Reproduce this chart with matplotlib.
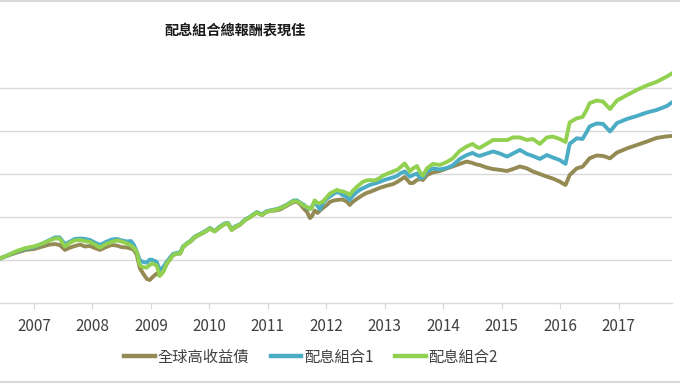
import matplotlib
matplotlib.use('Agg')
import matplotlib.pyplot as plt
from matplotlib.lines import Line2D

plt.rcParams['font.family'] = ['Noto Sans CJK TC', 'DejaVu Sans']

# 時間 (小數年)
years = [2006.42, 2006.56, 2006.71, 2006.86, 2007.00, 2007.15, 2007.27, 2007.36, 2007.44, 2007.53,
         2007.62, 2007.70, 2007.79, 2007.87, 2007.96, 2008.04, 2008.13, 2008.23, 2008.33, 2008.42,
         2008.50, 2008.59, 2008.66, 2008.71, 2008.76, 2008.81, 2008.86, 2008.93, 2008.98, 2009.03,
         2009.10, 2009.15, 2009.21, 2009.27, 2009.32, 2009.38, 2009.44, 2009.50, 2009.55, 2009.62,
         2009.67, 2009.75, 2009.84, 2009.92, 2010.01, 2010.09, 2010.18, 2010.26, 2010.32, 2010.38,
         2010.45, 2010.52, 2010.61, 2010.69, 2010.81, 2010.90, 2010.97, 2011.03, 2011.12, 2011.21,
         2011.29, 2011.38, 2011.44, 2011.50, 2011.55, 2011.62, 2011.67, 2011.72, 2011.75, 2011.80,
         2011.85, 2011.89, 2011.94, 2012.01, 2012.06, 2012.13, 2012.18, 2012.23, 2012.28, 2012.35,
         2012.40, 2012.45, 2012.52, 2012.57, 2012.62, 2012.69, 2012.74, 2012.83, 2012.91, 2012.97,
         2013.05, 2013.14, 2013.21, 2013.26, 2013.34, 2013.43, 2013.48, 2013.55, 2013.60, 2013.65,
         2013.72, 2013.82, 2013.94, 2014.06, 2014.16, 2014.28, 2014.40, 2014.50, 2014.57, 2014.62,
         2014.74, 2014.85, 2014.97, 2015.09, 2015.19, 2015.31, 2015.43, 2015.53, 2015.65, 2015.77,
         2015.87, 2015.99, 2016.04, 2016.09, 2016.16, 2016.28, 2016.38, 2016.45, 2016.50, 2016.62,
         2016.73, 2016.85, 2016.97, 2017.14, 2017.31, 2017.48, 2017.65, 2017.82, 2017.91]

# 全球高收益債
hy = [100.7, 102.1, 103.5, 104.7, 105.1, 106.3, 107.2, 107.4, 107.0, 104.7,
      105.8, 106.5, 107.2, 106.3, 106.5, 105.6, 104.7, 106.0, 107.0, 106.7,
      106.0, 105.8, 105.3, 104.7, 102.3, 96.3, 94.0, 91.2, 90.7, 92.1,
      93.7, 92.8, 94.7, 98.1, 100.2, 102.3, 103.0, 103.0, 106.0, 107.7,
      108.4, 110.5, 111.9, 113.0, 114.7, 113.3, 115.3, 116.7, 117.0, 114.0,
      115.3, 116.3, 118.6, 119.8, 122.1, 120.9, 122.3, 122.8, 123.0, 123.5,
      124.7, 126.0, 127.0, 127.0, 126.0, 123.7, 122.3, 119.5, 120.2, 123.0,
      121.9, 123.0, 124.2, 125.6, 127.0, 127.7, 127.9, 128.1, 128.1, 127.2,
      125.6, 127.0, 128.4, 129.3, 130.2, 131.2, 131.6, 132.6, 133.5, 134.0,
      134.7, 135.3, 136.3, 137.2, 138.6, 135.8, 135.8, 137.2, 137.7, 137.2,
      139.5, 140.7, 141.4, 142.6, 143.5, 144.7, 145.8, 145.1, 144.4, 144.2,
      143.0, 142.3, 141.9, 141.4, 142.3, 143.5, 142.6, 141.2, 140.0, 138.8,
      137.9, 136.5, 135.6, 134.9, 139.5, 142.6, 143.4, 145.6, 147.3, 148.6,
      148.4, 147.3, 150.0, 151.9, 153.5, 155.1, 156.8, 157.5, 157.7]

# 配息組合1
mix1 = [100.7, 102.3, 104.0, 105.3, 106.0, 107.7, 109.3, 110.5, 110.5, 107.4,
        108.6, 109.8, 110.0, 109.8, 109.3, 108.1, 107.0, 108.4, 109.5, 109.8,
        109.1, 108.6, 108.8, 107.0, 103.7, 100.0, 99.1, 98.8, 100.2, 100.0,
        99.1, 95.3, 96.7, 99.1, 100.9, 102.8, 103.3, 103.5, 106.3, 107.9,
        108.8, 110.9, 112.1, 113.3, 114.9, 113.5, 115.6, 117.0, 117.2, 114.4,
        115.8, 116.5, 118.8, 120.0, 122.3, 121.2, 122.6, 123.0, 123.5, 124.2,
        125.3, 126.7, 127.7, 127.7, 126.7, 125.6, 124.2, 123.7, 124.7, 127.2,
        125.1, 123.5, 126.5, 128.6, 129.5, 130.9, 131.6, 131.2, 130.2, 129.3,
        127.9, 129.8, 131.6, 132.6, 133.3, 134.2, 134.9, 135.6, 136.3, 137.0,
        137.7, 138.4, 139.1, 140.2, 141.2, 138.8, 139.5, 140.2, 138.1, 138.4,
        141.2, 142.6, 142.1, 142.8, 144.0, 147.0, 148.8, 149.8, 148.8, 148.4,
        149.5, 150.5, 149.5, 148.1, 149.5, 151.2, 149.3, 148.4, 147.0, 148.8,
        147.7, 146.5, 145.6, 144.7, 154.0, 156.6, 156.3, 159.5, 162.1, 163.5,
        163.3, 159.8, 163.7, 165.6, 167.0, 168.6, 169.8, 171.6, 173.3]

# 配息組合2
mix2 = [100.7, 102.3, 104.2, 105.6, 106.3, 107.7, 109.1, 110.0, 110.0, 106.3,
        108.1, 109.1, 109.3, 108.8, 108.4, 107.2, 105.8, 107.4, 108.4, 109.1,
        108.6, 107.7, 106.7, 105.6, 103.7, 97.7, 96.7, 96.5, 97.7, 98.4,
        97.4, 92.6, 94.4, 98.4, 100.0, 102.3, 103.0, 103.0, 106.0, 107.7,
        108.6, 110.7, 111.9, 113.0, 114.7, 113.3, 115.3, 116.7, 117.0, 114.0,
        115.6, 116.3, 118.6, 119.8, 122.1, 120.9, 122.3, 122.8, 123.3, 124.0,
        125.1, 126.5, 127.4, 127.2, 126.5, 125.1, 124.7, 123.7, 124.2, 127.7,
        126.5, 126.5, 127.2, 129.3, 130.9, 131.9, 132.6, 132.1, 131.9, 131.2,
        130.2, 132.1, 134.0, 135.1, 136.3, 137.0, 137.2, 137.0, 138.1, 139.3,
        140.2, 141.2, 141.9, 143.0, 144.9, 141.2, 142.6, 143.7, 140.9, 139.3,
        142.6, 144.7, 144.2, 145.6, 147.2, 150.7, 152.8, 154.0, 152.6, 152.1,
        154.0, 155.8, 155.8, 155.8, 157.0, 157.0, 155.8, 156.3, 154.0, 157.0,
        157.4, 156.3, 155.6, 154.9, 164.0, 165.9, 166.5, 169.8, 172.9, 174.2,
        173.7, 170.2, 174.2, 176.7, 179.1, 181.2, 182.9, 185.3, 186.8]

series_names = ['全球高收益債', '配息組合1', '配息組合2']
series_colors = ['#948A54', '#4BACC6', '#92D050']
year_ticks = list(range(2007, 2018))
grid_levels = [100, 120, 140, 160, 180]

fig = plt.figure(figsize=(6.8, 3.83), dpi=100)
ax = fig.add_axes([0, 80 / 383, 672 / 680, 258 / 383])

for vals, name, col in zip([hy, mix1, mix2], series_names, series_colors):
    ax.plot(years, vals, color=col, lw=2.8, label=name, solid_joinstyle='round')

ax.set_xlim(2006.42, 2017.91)
ax.set_ylim(80, 200)
for g in grid_levels:
    ax.axhline(g, color='#D9D9D9', lw=1, zorder=0)

for s in ['top', 'right', 'left']:
    ax.spines[s].set_visible(False)
ax.spines['bottom'].set_color('#D9D9D9')
ax.spines['bottom'].set_linewidth(1)
ax.set_yticks([])
ax.set_xticks(year_ticks)
ax.set_xticklabels([str(y) for y in year_ticks])
ax.tick_params(axis='x', direction='out', length=4, color='#D9D9D9',
               labelsize=11, labelcolor='#404040', pad=7)

fig.text(235 / 680, 1 - 30 / 383, '配息組合總報酬表現佳', ha='center', va='center',
         fontsize=10.2, fontweight='bold', color='#1a1a1a')

handles = [Line2D([], [], color=c, lw=3.2) for c in series_colors]
fig.legend(handles, series_names, loc='center', bbox_to_anchor=(311 / 680, 1 - 357 / 383),
           ncol=3, frameon=False, fontsize=11, handlelength=2.0, handletextpad=0.2,
           columnspacing=1.4, labelcolor='#404040')

# 上下框線
fig.add_artist(Line2D([0, 1], [1 - 1 / 383, 1 - 1 / 383], color='#D9D9D9', lw=1.5,
                      transform=fig.transFigure))
fig.add_artist(Line2D([0, 1], [1.5 / 383, 1.5 / 383], color='#D9D9D9', lw=1.5,
                      transform=fig.transFigure))

fig.savefig('out.png', dpi=100)
